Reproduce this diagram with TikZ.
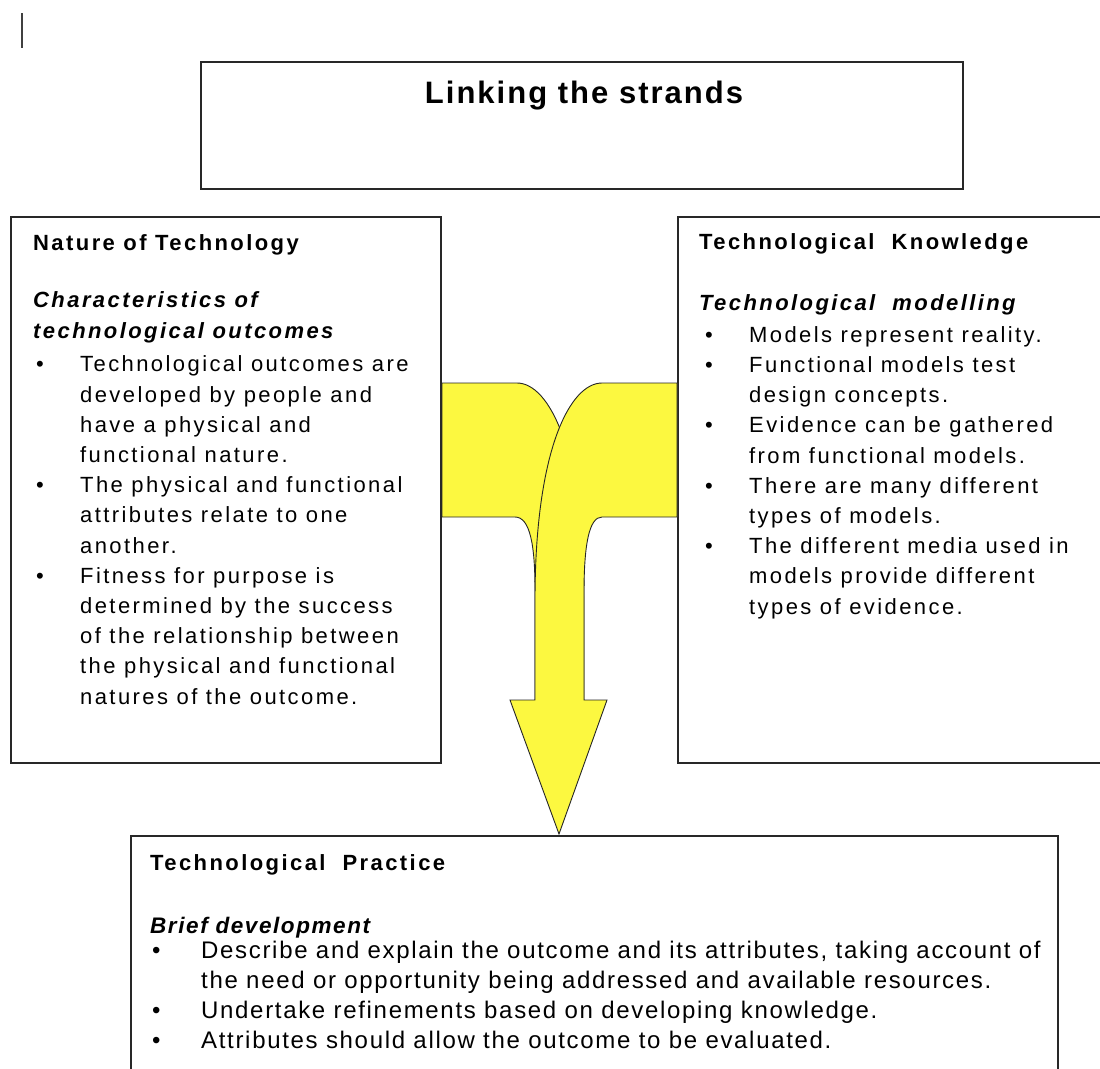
\documentclass[tikz,border=0pt]{standalone}
\usepackage{fontspec}
\setmainfont{Liberation Sans}
\newfontfamily\bodyfont[LetterSpace=11]{Liberation Sans}
\newfontfamily\widefont[LetterSpace=7]{Liberation Sans}
\newfontfamily\titlefont[LetterSpace=6.5]{Liberation Sans}
\definecolor{arrowyellow}{RGB}{252,248,64}
\definecolor{edge}{RGB}{40,40,40}
\newcommand\bul{\makebox[44pt][l]{\textbullet}}
\newcommand\ind{\hspace*{44pt}}
\begin{document}
\begin{tikzpicture}[x=1pt,y=-1pt,
  panel/.style={draw=edge, line width=1.6pt},
  % multi-line nodes sit on the baseline of their last line
  txt/.style={anchor=base west, inner sep=0pt, align=left,
    font=\bodyfont\fontsize{22}{30.2}\selectfont},
  head/.style={txt, font=\bodyfont\bfseries\fontsize{22}{30.2}\selectfont},
  sub/.style={txt, font=\bodyfont\bfseries\itshape\fontsize{22}{30.2}\selectfont},
  band/.style={fill=arrowyellow, draw=black!85, line width=0.9pt, line join=miter}]
\useasboundingbox (0,0) rectangle (1100,1068);

% cursor mark
\draw[draw=black!75, line width=1.8pt] (22,13) -- (22,48);

% title panel
\draw[panel] (201,62) rectangle (963,189);
\node[anchor=base, inner sep=0pt, font=\titlefont\bfseries\fontsize{31}{36}\selectfont] (title) at (584,103) {Linking the strands};

% left panel
\draw[panel] (11,217) rectangle (441,763);
\node[head] (nat) at (33,250) {Nature of Technology};
\node[sub] (natsub) at (33,338) {Characteristics of\\technological outcomes};
\node[txt] (natlist) at (36,704) {%
\bul Technological outcomes are\\
\ind developed by people and\\
\ind have a physical and\\
\ind functional nature.\\
\bul The physical and functional\\
\ind attributes relate to one\\
\ind another.\\
\bul Fitness for purpose is\\
\ind determined by the success\\
\ind of the relationship between\\
\ind the physical and functional\\
\ind natures of the outcome.};

% right panel (runs off the right edge)
\draw[panel] (1112,217) -- (678,217) -- (678,763) -- (1112,763);
\node[head] (know) at (699,249) {Technological\ \ Knowledge};
\node[sub] (knowsub) at (699,310) {Technological\ \ modelling};
\node[txt] (knowlist) at (705,614) {%
\bul Models represent reality.\\
\bul Functional models test\\
\ind design concepts.\\
\bul Evidence can be gathered\\
\ind from functional models.\\
\bul There are many different\\
\ind types of models.\\
\bul The different media used in\\
\ind models provide different\\
\ind types of evidence.};

% bottom panel (runs off the bottom edge)
\draw[panel] (131,1075) -- (131,836) -- (1058,836) -- (1058,1075);
\node[head] (prac) at (150,870) {Technological\ \ Practice};
\node[sub, font=\widefont\bfseries\itshape\fontsize{22.5}{30}\selectfont] (pracsub) at (150,933) {Brief development};
\node[txt, font=\widefont\fontsize{24}{30}\selectfont] (praclist) at (152,1048) {%
\makebox[49pt][l]{\textbullet}Describe and explain the outcome and its attributes, taking account of\\
\hspace*{49pt}the need or opportunity being addressed and available resources.\\
\makebox[49pt][l]{\textbullet}Undertake refinements based on developing knowledge.\\
\makebox[49pt][l]{\textbullet}Attributes should allow the outcome to be evaluated.};

% left strand bending down
\path[band] (442,383) -- (517,383)
  .. controls (549,383) and (584,450) .. (584,600) -- (584,700) -- (535,700)
  -- (535,590) .. controls (535,545) and (530,517) .. (515,517) -- (442,517) -- cycle;
% right strand bending down into the arrow
\path[band] (677,383) -- (602,383)
  .. controls (570,383) and (535,450) .. (535,600) -- (535,700) -- (510,700)
  -- (559,834) -- (607,700) -- (584,700) -- (584,593)
  .. controls (584,545) and (589,517) .. (602,517) -- (677,517) -- cycle;
\end{tikzpicture}
\end{document}
